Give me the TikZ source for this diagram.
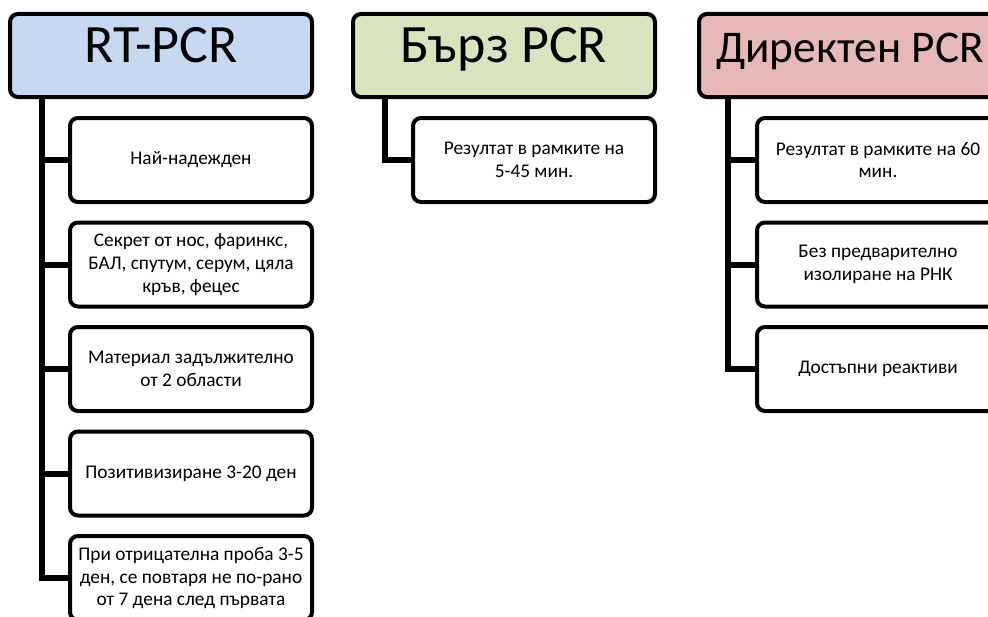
\documentclass[tikz,border=0pt]{standalone}
\usepackage{fontspec}
\setmainfont{Carlito}
\definecolor{rtblue}{HTML}{C6D9F1}
\definecolor{fastgreen}{HTML}{D7E4BD}
\definecolor{directpink}{HTML}{E6B9B8}
\tikzset{
  head/.style={draw, line width=3pt, rounded corners=6pt, inner sep=0pt,
    minimum width=226.5pt, minimum height=62.25pt,
    font=\fontsize{40.5}{48}\selectfont, text height=11.25pt, text depth=0pt},
  item/.style={draw, line width=3pt, rounded corners=6pt, fill=white, inner sep=0pt,
    minimum width=181.5pt, minimum height=63pt, align=center,
    font=\fontsize{14.5}{17}\selectfont},
  link/.style={line width=4.5pt}
}
\begin{document}
\begin{tikzpicture}[x=0.75pt, y=-0.75pt]
\useasboundingbox (0,0) rectangle (988,617);
\clip (0,0) rectangle (988,617);
% RT-PCR
\node[head, fill=rtblue] (rt) at (161,55.5) {RT-PCR};
\node[item] (r1) at (191,160) {Най-надежден};
\node[item] (r2) at (191,264.5) {Секрет от нос, фаринкс,\\БАЛ, спутум, серум, цяла\\кръв, фецес};
\node[item] (r3) at (191,369) {Материал задължително\\от 2 области};
\node[item] (r4) at (191,473.5) {Позитивизиране 3-20 ден};
\node[item] (r5) at (191,578) {При отрицателна проба 3-5\\ден, се повтаря не по-рано\\от 7 дена след първата};
\coordinate (rtt) at (42,97);
\draw[link] (rtt) |- (r5.west);
\foreach \i in {1,...,4}
  \draw[link] (r\i.west) -- (r\i.west -| rtt);
% Бърз PCR
\node[head, fill=fastgreen] (bz) at (504,55.5) {Бърз PCR};
\node[item] (b1) at (534,160) {Резултат в рамките на\\5-45 мин.};
\coordinate (bzt) at (385,97);
\draw[link] (bzt) |- (b1.west);
% Директен PCR
\node[head, fill=directpink, font=\fontsize{34}{42}\selectfont] (dr) at (850,55.5) {Директен PCR};
\node[item] (d1) at (878,160) {Резултат в рамките на 60\\мин.};
\node[item] (d2) at (878,264.5) {Без предварително\\изолиране на РНК};
\node[item] (d3) at (878,369) {Достъпни реактиви};
\coordinate (drt) at (728,97);
\draw[link] (drt) |- (d3.west);
\foreach \i in {1,2}
  \draw[link] (d\i.west) -- (d\i.west -| drt);
\end{tikzpicture}
\end{document}
